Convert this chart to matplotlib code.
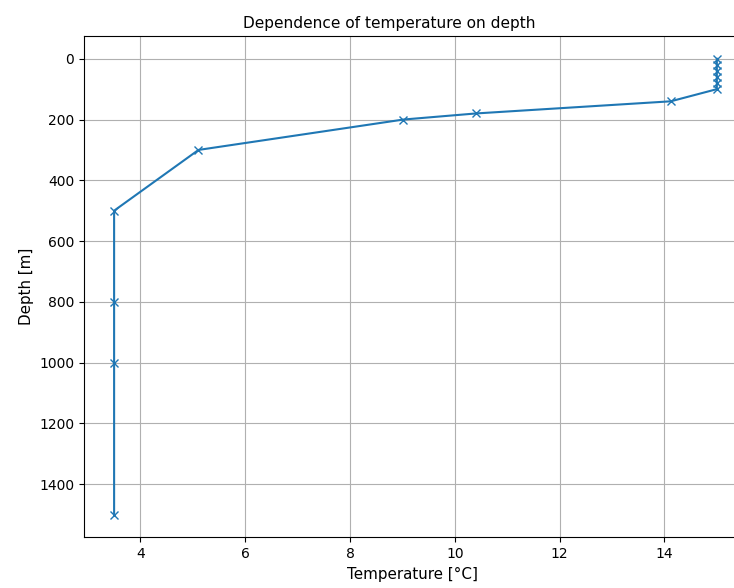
import matplotlib.pyplot as plt

# data
temperature = [15, 15, 15, 15, 15, 15, 14.12, 10.4, 9.02, 5.11, 3.5, 3.5, 3.5, 3.5]
depth = [0, 20, 40, 60, 80, 100, 140, 180, 200, 300, 500, 800, 1000, 1500]

plt.rcParams["font.size"] = 10
plt.rcParams["axes.labelsize"] = 10.9
plt.rcParams["axes.titlesize"] = 11.1

fig = plt.figure(figsize=(7.34, 5.88), dpi=100)
# the reference is cropped on the right, so the axes run past the edge
ax = fig.add_axes([0.1144, 0.0862, 0.9033, 0.8526])
ax.plot(temperature, depth, marker="x", linewidth=1.5, markersize=6)
ax.invert_yaxis()
ax.set_title("Dependence of temperature on depth", x=0.46)
ax.set_xlabel("Temperature [°C]", x=0.496)
ax.set_ylabel("Depth [m]")
ax.grid(True)

fig.savefig("out.png")
